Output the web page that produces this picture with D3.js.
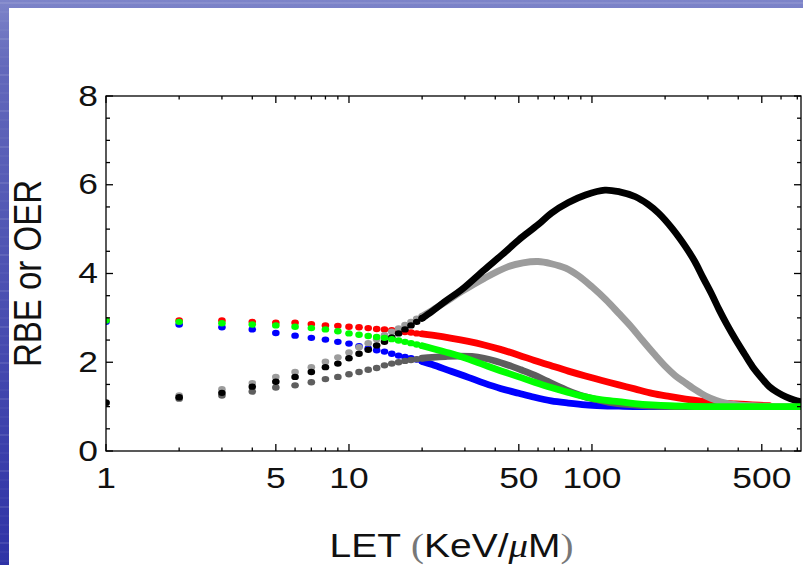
<!DOCTYPE html>
<html>
<head>
<meta charset="utf-8">
<script src="https://cdn.jsdelivr.net/npm/d3@7"></script>
<style>
  body { margin: 0; background: #3a3eaa; }
  svg { display: block; }
</style>
</head>
<body>
<div id="chart"></div>
<script>
// LET values sampled as separate dots (low LET end)
const dotLET = [1, 2, 3, 4, 5, 6, 7, 8, 9, 10, 11, 12, 13, 14, 15, 16, 17, 18, 19, 20];

// RBE / OER read at each dot
const blackDots = [1.09, 1.21, 1.31, 1.45, 1.56, 1.67, 1.78, 1.89, 1.97, 2.09, 2.19, 2.28, 2.38, 2.46, 2.56, 2.65, 2.74, 2.83, 2.91, 2.99];
const lightDots = [1.10, 1.25, 1.39, 1.53, 1.67, 1.78, 1.89, 2.01, 2.11, 2.22, 2.34, 2.43, 2.52, 2.61, 2.69, 2.76, 2.84, 2.91, 2.98, 3.04];
const darkDots  = [1.08, 1.18, 1.25, 1.34, 1.43, 1.48, 1.55, 1.62, 1.67, 1.73, 1.78, 1.83, 1.87, 1.93, 1.97, 2.00, 2.03, 2.05, 2.07, 2.09];
const redDots   = [2.95, 2.94, 2.94, 2.91, 2.89, 2.89, 2.86, 2.83, 2.82, 2.80, 2.79, 2.77, 2.75, 2.74, 2.72, 2.70, 2.68, 2.67, 2.65, 2.64];
const greenDots = [2.94, 2.91, 2.88, 2.85, 2.83, 2.80, 2.77, 2.74, 2.70, 2.65, 2.62, 2.59, 2.57, 2.55, 2.52, 2.49, 2.46, 2.43, 2.40, 2.37];
const blueDots  = [2.91, 2.85, 2.79, 2.74, 2.66, 2.60, 2.55, 2.51, 2.46, 2.42, 2.36, 2.31, 2.27, 2.24, 2.19, 2.15, 2.12, 2.09, 2.06, 2.02];

// continuous part [LET, value]
const blackCurve = [[22,3.15],[25,3.38],[29,3.63],[36,4.08],[43,4.44],[50,4.76],[60,5.10],[68,5.36],[80,5.60],[94,5.77],[113,5.88],[130,5.84],[151,5.73],[170,5.56],[188,5.36],[215,5.00],[243,4.60],[265,4.27],[285,3.93],[310,3.55],[334,3.18],[360,2.84],[391,2.50],[425,2.18],[458,1.90],[500,1.64],[537,1.45],[580,1.32],[629,1.22],[680,1.15],[725,1.11]];
const lightCurve = [[22,3.17],[25,3.36],[29,3.59],[36,3.89],[45,4.15],[52,4.24],[60,4.27],[68,4.22],[78,4.12],[88,3.95],[100,3.70],[114,3.41],[129,3.10],[145,2.80],[161,2.50],[180,2.19],[201,1.90],[220,1.70],[243,1.53],[268,1.37],[294,1.24],[325,1.14],[355,1.08],[400,1.04],[458,1.02],[520,1.01],[600,1.00],[725,1.00]];
const darkCurve  = [[22,2.11],[25,2.13],[28,2.14],[32,2.13],[36,2.09],[40,2.03],[45,1.94],[51,1.83],[58,1.71],[65,1.58],[73,1.45],[83,1.32],[94,1.22],[106,1.15],[120,1.09],[138,1.05],[156,1.03],[180,1.01],[220,1.00],[400,1.00]];
const redCurve   = [[22,2.61],[26.5,2.54],[31,2.47],[36,2.39],[42,2.29],[50,2.16],[58,2.04],[68,1.92],[80,1.80],[94,1.69],[110,1.59],[129,1.49],[150,1.40],[177,1.30],[208,1.23],[243,1.17],[285,1.12],[334,1.08],[390,1.06],[458,1.04],[537,1.02]];
const greenCurve = [[22,2.31],[26.5,2.19],[31,2.07],[36,1.94],[42,1.81],[50,1.67],[58,1.55],[68,1.43],[80,1.32],[94,1.22],[110,1.15],[129,1.11],[150,1.07],[177,1.04],[208,1.02],[243,1.01],[300,1.00],[400,1.00],[725,1.00]];
const blueCurve  = [[22,1.95],[26.5,1.79],[31,1.66],[36,1.53],[42,1.41],[50,1.30],[58,1.21],[68,1.13],[80,1.08],[94,1.04],[110,1.02],[129,1.01],[160,1.00],[285,1.00]];

const xMajor = [1, 5, 10, 50, 100, 500];
const xMinor = [2, 3, 4, 6, 7, 8, 9, 20, 30, 40, 60, 70, 80, 90, 200, 300, 400, 600, 700];
const yMajor = [0, 2, 4, 6, 8];

// drawing order: green ends up on top
let series = [
    {color: "#0000ff", dots: blueDots, curve: blueCurve},
    {color: "#ff0000", dots: redDots, curve: redCurve},
    {color: "#5e5e5e", dots: darkDots, curve: darkCurve},
    {color: "#9c9c9c", dots: lightDots, curve: lightCurve},
    {color: "#000000", dots: blackDots, curve: blackCurve},
    {color: "#00ff00", dots: greenDots, curve: greenCurve}
];

let w = 803;
let h = 565;
let margin = {top: 96, right: 2, bottom: 114, left: 106};
let x0 = margin.left, x1 = w - margin.right;
let y0 = margin.top, y1 = h - margin.bottom;
let sx = 1.18; // the slide stretched the picture sideways

let svg = d3.select("#chart")
    .append("svg")
    .attr("width", w)
    .attr("height", h);

// slide background
let defs = svg.append("defs");
let grad = defs.append("linearGradient")
    .attr("id", "bg")
    .attr("x1", 0).attr("y1", 0).attr("x2", 0).attr("y2", 1);
grad.append("stop").attr("offset", "0%").attr("stop-color", "#7d84c9");
grad.append("stop").attr("offset", "12%").attr("stop-color", "#6268bb");
grad.append("stop").attr("offset", "100%").attr("stop-color", "#2f33a6");
svg.append("rect")
    .attr("width", w).attr("height", h)
    .attr("fill", "url(#bg)");
svg.append("g")
    .selectAll("line")
    .data(d3.range(3, h, 9))
    .join("line")
    .attr("x1", 0).attr("x2", w)
    .attr("y1", d => d).attr("y2", d => d)
    .attr("stroke", "#ffffff")
    .attr("stroke-opacity", (d, i) => i % 4 == 0 ? 0.10 : 0.04)
    .attr("stroke-width", 2);
svg.append("rect")
    .attr("x", 9).attr("y", 8)
    .attr("width", w - 9).attr("height", h - 8)
    .attr("fill", "#ffffff");

let x = d3.scaleLog()
    .domain([1, 725])
    .range([x0, x1]);
let y = d3.scaleLinear()
    .domain([0, 8])
    .range([y1, y0]);

defs.append("clipPath")
    .attr("id", "plotclip")
    .append("rect")
    .attr("x", x0).attr("y", y0)
    .attr("width", x1 - x0).attr("height", y1 - y0);

let plot = svg.append("g").attr("clip-path", "url(#plotclip)");
let line = d3.line()
    .x(d => x(d[0]))
    .y(d => y(d[1]))
    .curve(d3.curveCatmullRom.alpha(0.5));

series.forEach(s => {
    let g = plot.append("g");
    // joined curve, starting from the last dot
    let pts = [[dotLET[dotLET.length - 1], s.dots[s.dots.length - 1]]].concat(s.curve);
    g.append("path")
        .attr("d", line(pts))
        .attr("fill", "none")
        .attr("stroke", s.color)
        .attr("stroke-width", 6.8)
        .attr("stroke-linecap", "round")
        .attr("stroke-linejoin", "round");
    g.selectAll("ellipse")
        .data(s.dots)
        .join("ellipse")
        .attr("cx", (d, i) => x(dotLET[i]))
        .attr("cy", d => y(d))
        .attr("rx", 3.8)
        .attr("ry", 3.2)
        .attr("fill", s.color);
});

// frame with inside ticks
let frame = svg.append("g").attr("stroke", "#000").attr("stroke-width", 1.3);
frame.append("rect")
    .attr("x", x0).attr("y", y0)
    .attr("width", x1 - x0).attr("height", y1 - y0)
    .attr("fill", "none");

let xt = xMajor.map(v => ({v: v, len: 7})).concat(xMinor.map(v => ({v: v, len: 3.5})));
frame.selectAll(".xb")
    .data(xt)
    .join("line")
    .attr("x1", d => x(d.v)).attr("x2", d => x(d.v))
    .attr("y1", y1).attr("y2", d => y1 - d.len);
frame.selectAll(".xt")
    .data(xt)
    .join("line")
    .attr("x1", d => x(d.v)).attr("x2", d => x(d.v))
    .attr("y1", y0).attr("y2", d => y0 + d.len);

let yt = d3.range(0, 8.01, 0.5).map(v => ({v: v, len: v % 2 == 0 ? 7 : 4}));
frame.selectAll(".yl")
    .data(yt)
    .join("line")
    .attr("y1", d => y(d.v)).attr("y2", d => y(d.v))
    .attr("x1", x0).attr("x2", d => x0 + d.len);
frame.selectAll(".yr")
    .data(yt)
    .join("line")
    .attr("y1", d => y(d.v)).attr("y2", d => y(d.v))
    .attr("x1", x1).attr("x2", d => x1 - d.len);

// tick labels
let font = "'Liberation Sans', Arial, sans-serif";
svg.append("g")
    .selectAll("text")
    .data(xMajor)
    .join("text")
    .attr("transform", d => `translate(${x(d)},${488}) scale(${sx},1)`)
    .attr("text-anchor", "middle")
    .attr("font-family", font)
    .attr("font-size", "30px")
    .attr("fill", "#111")
    .text(d => d);

svg.append("g")
    .selectAll("text")
    .data(yMajor)
    .join("text")
    .attr("transform", d => `translate(${98},${y(d) + 9.5}) scale(${sx},1)`)
    .attr("text-anchor", "end")
    .attr("font-family", font)
    .attr("font-size", "30px")
    .attr("fill", "#111")
    .text(d => d);

// axis titles
svg.append("text")
    .attr("transform", `translate(41,${(y0 + y1) / 2}) rotate(-90) scale(1,${sx})`)
    .attr("text-anchor", "middle")
    .attr("font-family", font)
    .attr("font-size", "33px")
    .attr("fill", "#111")
    .text("RBE or OER");

let xl = svg.append("text")
    .attr("transform", `translate(${(x0 + x1) / 2 - 2},557) scale(${sx},1)`)
    .attr("text-anchor", "middle")
    .attr("font-family", font)
    .attr("font-size", "33px")
    .attr("fill", "#111");
xl.append("tspan").text("LET ");
xl.append("tspan").attr("font-family", "'Liberation Serif', serif").attr("fill", "#777").text("(");
xl.append("tspan").text("KeV/");
xl.append("tspan").attr("font-family", "'Liberation Serif', serif").attr("font-style", "italic").text("\u03bc");
xl.append("tspan").text("M");
xl.append("tspan").attr("font-family", "'Liberation Serif', serif").attr("fill", "#777").text(")");
</script>
</body>
</html>
